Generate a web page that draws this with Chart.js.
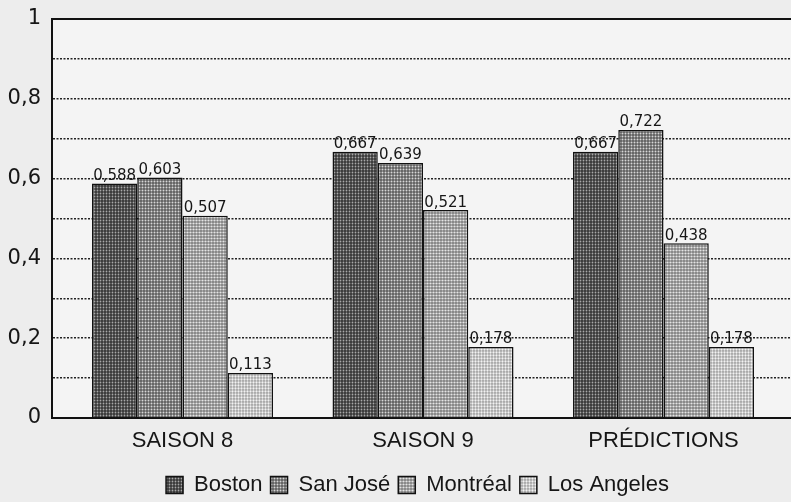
<!DOCTYPE html>
<html>
<head>
<meta charset="utf-8">
<script src="https://cdn.jsdelivr.net/npm/chart.js@4/dist/chart.umd.min.js"></script>
<style>
  html, body { margin: 0; padding: 0; background: #ededed; }
  #wrap { width: 791px; height: 502px; }
</style>
</head>
<body>
<div id="wrap"><canvas id="chart" width="791" height="502"></canvas></div>
<script>
// Données
const categories = ['SAISON 8', 'SAISON 9', 'PRÉDICTIONS'];
const boston = [0.588, 0.667, 0.667];
const sanJose = [0.603, 0.639, 0.722];
const montreal = [0.507, 0.521, 0.438];
const losAngeles = [0.113, 0.178, 0.178];
const yTicks = [0, 0.2, 0.4, 0.6, 0.8, 1];

Chart.defaults.font.family = "'Liberation Sans', Arial, sans-serif";
Chart.defaults.color = '#161616';

// motif tramé façon impression
function makePattern(bg, dot, step, r) {
    const c = document.createElement('canvas');
    c.width = step; c.height = step;
    const g = c.getContext('2d');
    g.fillStyle = bg;
    g.fillRect(0, 0, step, step);
    g.fillStyle = dot;
    g.beginPath();
    g.arc(step / 2, step / 2, r, 0, Math.PI * 2);
    g.fill();
    return g.createPattern(c, 'repeat');
}

const ctx = document.getElementById('chart').getContext('2d');
const fills = {
    boston: makePattern('#383838', '#a8a8a8', 3, 0.9),
    sanJose: makePattern('#5e5e5e', '#d6d6d6', 3, 1.0),
    montreal: makePattern('#808080', '#e4e4e4', 3, 1.1),
    losAngeles: makePattern('#a0a0a0', '#f2f2f2', 3, 1.15)
};

function fmt(v) {
    return String(v).replace('.', ',');
}

function series(label, data, fill) {
    return {
        label: label,
        data: data.map((v, i) => ({ x: i, y: v })),
        backgroundColor: fill,
        borderColor: '#111',
        borderWidth: 1.5,
        categoryPercentage: 0.7526,
        barPercentage: 1
    };
}

// étiquettes au-dessus des barres
const valueLabels = {
    id: 'valueLabels',
    afterDatasetsDraw(chart) {
        const c = chart.ctx;
        c.save();
        c.font = "15px 'DejaVu Sans', Arial";
        c.fillStyle = '#161616';
        c.textAlign = 'center';
        c.textBaseline = 'bottom';
        chart.data.datasets.forEach((ds, di) => {
            chart.getDatasetMeta(di).data.forEach((bar, i) => {
                c.fillText(fmt(ds.data[i].y), bar.x, bar.y);
            });
        });
        c.restore();
    }
};

// fond du cadre, trait plein en haut, légende décalée vers la droite
const frame = {
    id: 'frame',
    afterLayout(chart) {
        if (chart.legend) {
            chart.legend.left += 22;
            chart.legend.right += 22;
        }
    },
    beforeDraw(chart) {
        const a = chart.chartArea;
        const c = chart.ctx;
        c.save();
        c.fillStyle = '#f4f4f4';
        c.fillRect(a.left, a.top, a.right - a.left, a.bottom - a.top);
        c.restore();
    },
    beforeDatasetsDraw(chart) {
        const a = chart.chartArea;
        const c = chart.ctx;
        c.save();
        c.strokeStyle = '#111';
        c.lineWidth = 2;
        c.beginPath();
        c.moveTo(a.left, a.top);
        c.lineTo(a.right, a.top);
        c.stroke();
        c.restore();
    }
};

new Chart(ctx, {
    type: 'bar',
    data: {
        datasets: [
            series('Boston', boston, fills.boston),
            series('San José', sanJose, fills.sanJose),
            series('Montréal', montreal, fills.montreal),
            series('Los Angeles', losAngeles, fills.losAngeles)
        ]
    },
    plugins: [valueLabels, frame],
    options: {
        responsive: false,
        animation: false,
        layout: { padding: { top: 0, right: 0, left: 0, bottom: -4 } },
        plugins: {
            tooltip: { enabled: false },
            legend: {
                position: 'bottom',
                labels: {
                    color: '#161616',
                    font: { size: 22 },
                    boxWidth: 17,
                    boxHeight: 17,
                    padding: 8
                }
            }
        },
        scales: {
            x: {
                type: 'linear',
                offset: false,
                min: -0.5426,
                max: 2.530,
                afterBuildTicks: s => { s.ticks = categories.map((c, i) => ({ value: i })); },
                afterFit: s => { s.height = 48; },
                ticks: {
                    callback: v => categories[v],
                    font: { size: 22 },
                    color: '#161616',
                    maxRotation: 0,
                    padding: 10
                },
                grid: { display: false, drawTicks: false },
                border: { color: '#111', width: 2 }
            },
            y: {
                min: 0,
                max: 1,
                afterFit: s => { s.width = 52; s.paddingTop = 19; s.paddingBottom = 0; },
                ticks: {
                    stepSize: 0.1,
                    callback: v => {
                        const r = Math.round(v * 10) / 10;
                        return yTicks.includes(r) ? fmt(r) : '';
                    },
                    font: { size: 21, family: "'DejaVu Sans', Arial" },
                    color: '#161616',
                    padding: 11
                },
                grid: {
                    color: '#222',
                    lineWidth: 1.5,
                    drawTicks: false
                },
                border: { color: '#111', width: 2, dash: [2, 1.5] }
            }
        }
    }
});
</script>
</body>
</html>
